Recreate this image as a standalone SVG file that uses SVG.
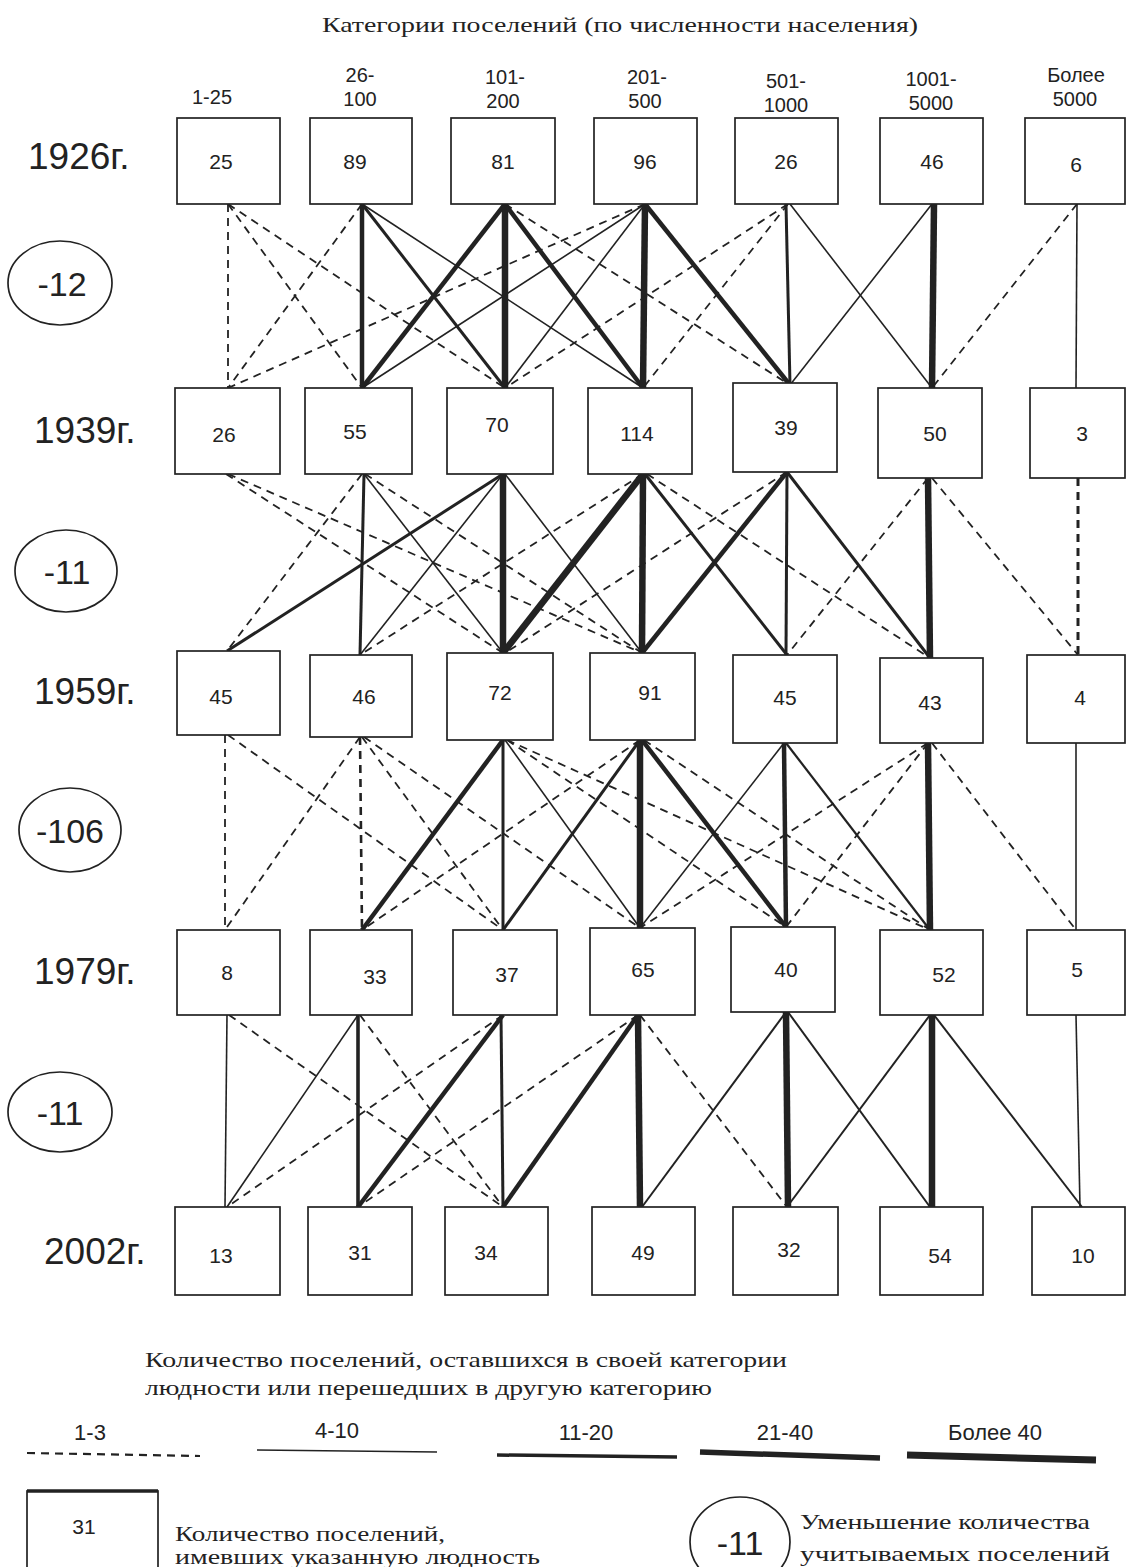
<svg xmlns="http://www.w3.org/2000/svg" width="1126" height="1567" viewBox="0 0 1126 1567">
<style>
.bg{fill:#fff}
.box{fill:#fff;stroke:#222;stroke-width:1.7}
.n{font-family:"Liberation Sans",Arial,sans-serif;font-size:21px;fill:#222;text-anchor:middle}
.h{font-family:"Liberation Sans",Arial,sans-serif;font-size:20px;fill:#222;text-anchor:middle}
.yr{font-family:"Liberation Sans",Arial,sans-serif;font-size:37px;fill:#222}
.ov{fill:#fff;stroke:#222;stroke-width:1.7}
.ot{font-family:"Liberation Sans",Arial,sans-serif;font-size:34px;fill:#222;text-anchor:middle}
.sf{font-family:"Liberation Serif","Times New Roman",serif;font-size:22px;fill:#222}
.c line{stroke:#222;fill:none;stroke-linecap:butt}
.d{stroke-width:1.8;stroke-dasharray:8 6}
.t{stroke-width:1.6}
.m{stroke-width:3}
.k{stroke-width:4.5}
.x{stroke-width:6.5}
</style>
<rect class="bg" x="0" y="0" width="1126" height="1567"/>
<text class="sf" x="322" y="32" textLength="596" lengthAdjust="spacingAndGlyphs">Категории поселений (по численности населения)</text>

<g id="headers">
<text class="h" x="212" y="104">1-25</text>
<text class="h" x="360" y="82">26-</text><text class="h" x="360" y="106">100</text>
<text class="h" x="505" y="84">101-</text><text class="h" x="503" y="108">200</text>
<text class="h" x="647" y="84">201-</text><text class="h" x="645" y="108">500</text>
<text class="h" x="786" y="88">501-</text><text class="h" x="786" y="112">1000</text>
<text class="h" x="931" y="86">1001-</text><text class="h" x="931" y="110">5000</text>
<text class="h" x="1076" y="82">Более</text><text class="h" x="1075" y="106">5000</text>
</g>

<g id="years">
<text class="yr" x="28" y="169">1926г.</text>
<text class="yr" x="34" y="443">1939г.</text>
<text class="yr" x="34" y="704">1959г.</text>
<text class="yr" x="34" y="984">1979г.</text>
<text class="yr" x="44" y="1264">2002г.</text>
</g>

<g id="decreases">
<g id="dec1"><ellipse class="ov" cx="60" cy="283" rx="52" ry="42"/><text class="ot" x="62" y="296">-12</text></g>
<g id="dec2"><ellipse class="ov" cx="66" cy="571" rx="51" ry="41"/><text class="ot" x="67" y="584">-11</text></g>
<g id="dec3"><ellipse class="ov" cx="70" cy="830" rx="51" ry="42"/><text class="ot" x="70" y="843">-106</text></g>
<g id="dec4"><ellipse class="ov" cx="60" cy="1112" rx="52" ry="40"/><text class="ot" x="60" y="1125">-11</text></g>
</g>

<g id="connectors" class="c">
<!-- 1926 -> 1939 -->
<line class="d" x1="228" y1="204" x2="228" y2="388"/>
<line class="d" x1="228" y1="204" x2="362" y2="388"/>
<line class="d" x1="228" y1="204" x2="505" y2="388"/>
<line class="d" x1="362" y1="204" x2="228" y2="388"/>
<line class="k" x1="362" y1="204" x2="362" y2="388"/>
<line class="m" x1="362" y1="204" x2="505" y2="388"/>
<line class="t" x1="362" y1="204" x2="643" y2="388"/>
<line class="k" x1="505" y1="204" x2="362" y2="388"/>
<line class="x" x1="505" y1="204" x2="505" y2="388"/>
<line class="k" x1="505" y1="204" x2="643" y2="388"/>
<line class="d" x1="505" y1="204" x2="790" y2="385"/>
<line class="d" x1="645" y1="204" x2="228" y2="388"/>
<line class="t" x1="645" y1="204" x2="362" y2="388"/>
<line class="t" x1="645" y1="204" x2="505" y2="388"/>
<line class="x" x1="645" y1="204" x2="643" y2="388"/>
<line class="k" x1="645" y1="204" x2="790" y2="385"/>
<line class="d" x1="788" y1="204" x2="505" y2="388"/>
<line class="d" x1="788" y1="204" x2="643" y2="388"/>
<line class="m" x1="786" y1="204" x2="790" y2="385"/>
<line class="t" x1="790" y1="204" x2="932" y2="388"/>
<line class="t" x1="932" y1="204" x2="790" y2="385"/>
<line class="x" x1="934" y1="204" x2="932" y2="388"/>
<line class="d" x1="1077" y1="204" x2="932" y2="388"/>
<line class="t" x1="1077" y1="204" x2="1076" y2="388"/>
<!-- 1939 -> 1959 -->
<line class="d" x1="226" y1="474" x2="503" y2="653"/>
<line class="d" x1="228" y1="474" x2="642" y2="653"/>
<line class="d" x1="362" y1="474" x2="227" y2="651"/>
<line class="m" x1="364" y1="474" x2="360" y2="655"/>
<line class="t" x1="364" y1="474" x2="503" y2="653"/>
<line class="d" x1="365" y1="474" x2="642" y2="653"/>
<line class="m" x1="503" y1="474" x2="227" y2="651"/>
<line class="t" x1="503" y1="474" x2="360" y2="655"/>
<line class="x" x1="503" y1="474" x2="503" y2="653"/>
<line class="t" x1="505" y1="474" x2="642" y2="653"/>
<line class="d" x1="643" y1="474" x2="360" y2="655"/>
<line class="x" x1="643" y1="474" x2="503" y2="653"/>
<line class="x" x1="643" y1="474" x2="642" y2="653"/>
<line class="m" x1="645" y1="474" x2="787" y2="655"/>
<line class="d" x1="647" y1="474" x2="930" y2="658"/>
<line class="d" x1="787" y1="472" x2="505" y2="653"/>
<line class="k" x1="787" y1="472" x2="642" y2="653"/>
<line class="m" x1="787" y1="472" x2="786" y2="655"/>
<line class="m" x1="787" y1="472" x2="930" y2="658"/>
<line class="d" x1="928" y1="478" x2="787" y2="655"/>
<line class="x" x1="928" y1="478" x2="930" y2="658"/>
<line class="d" x1="932" y1="478" x2="1078" y2="655"/>
<line class="d" x1="1078" y1="478" x2="1078" y2="655" style="stroke-width:3"/>
<!-- 1959 -> 1979 -->
<line class="d" x1="225" y1="735" x2="225" y2="930"/>
<line class="d" x1="228" y1="735" x2="503" y2="930"/>
<line class="d" x1="360" y1="737" x2="225" y2="930"/>
<line class="d" x1="360" y1="737" x2="362" y2="930" style="stroke-width:2.6"/>
<line class="d" x1="362" y1="737" x2="503" y2="930"/>
<line class="d" x1="364" y1="737" x2="640" y2="928"/>
<line class="k" x1="503" y1="740" x2="362" y2="930"/>
<line class="m" x1="503" y1="740" x2="503" y2="930"/>
<line class="t" x1="505" y1="740" x2="640" y2="928"/>
<line class="d" x1="507" y1="740" x2="786" y2="927"/>
<line class="d" x1="507" y1="740" x2="930" y2="930"/>
<line class="d" x1="640" y1="740" x2="362" y2="930"/>
<line class="m" x1="640" y1="740" x2="503" y2="930"/>
<line class="x" x1="640" y1="740" x2="640" y2="928"/>
<line class="k" x1="642" y1="740" x2="786" y2="927"/>
<line class="d" x1="644" y1="740" x2="930" y2="930"/>
<line class="t" x1="784" y1="743" x2="640" y2="928"/>
<line class="k" x1="784" y1="743" x2="786" y2="927"/>
<line class="m" x1="786" y1="743" x2="930" y2="930" style="stroke-width:2.2"/>
<line class="d" x1="928" y1="743" x2="640" y2="928"/>
<line class="d" x1="928" y1="743" x2="786" y2="927"/>
<line class="x" x1="928" y1="743" x2="930" y2="930"/>
<line class="d" x1="932" y1="743" x2="1076" y2="930"/>
<line class="t" x1="1076" y1="743" x2="1076" y2="930"/>
<!-- 1979 -> 2002 -->
<line class="t" x1="227" y1="1015" x2="225" y2="1207"/>
<line class="d" x1="229" y1="1015" x2="503" y2="1207"/>
<line class="t" x1="358" y1="1015" x2="227" y2="1207"/>
<line class="m" x1="358" y1="1015" x2="358" y2="1207" style="stroke-width:3.6"/>
<line class="d" x1="360" y1="1015" x2="503" y2="1207"/>
<line class="d" x1="503" y1="1015" x2="227" y2="1207"/>
<line class="k" x1="503" y1="1015" x2="358" y2="1207"/>
<line class="m" x1="501" y1="1015" x2="503" y2="1207"/>
<line class="d" x1="638" y1="1015" x2="358" y2="1207"/>
<line class="k" x1="638" y1="1015" x2="503" y2="1207"/>
<line class="x" x1="638" y1="1015" x2="640" y2="1207"/>
<line class="d" x1="640" y1="1015" x2="787" y2="1207"/>
<line class="t" x1="786" y1="1012" x2="642" y2="1207" style="stroke-width:2"/>
<line class="x" x1="786" y1="1012" x2="788" y2="1207"/>
<line class="t" x1="788" y1="1012" x2="930" y2="1207" style="stroke-width:2"/>
<line class="t" x1="930" y1="1015" x2="787" y2="1207" style="stroke-width:2"/>
<line class="x" x1="932" y1="1015" x2="932" y2="1207"/>
<line class="t" x1="934" y1="1015" x2="1082" y2="1207" style="stroke-width:2"/>
<line class="t" x1="1076" y1="1015" x2="1080" y2="1207"/>
</g>

<g id="r1926">
<g id="n1926-1"><rect class="box" x="177" y="118" width="103" height="86"/><text class="n" x="221" y="169">25</text></g>
<g id="n1926-2"><rect class="box" x="310" y="118" width="102" height="86"/><text class="n" x="355" y="169">89</text></g>
<g id="n1926-3"><rect class="box" x="451" y="118" width="104" height="86"/><text class="n" x="503" y="169">81</text></g>
<g id="n1926-4"><rect class="box" x="594" y="118" width="103" height="86"/><text class="n" x="645" y="169">96</text></g>
<g id="n1926-5"><rect class="box" x="735" y="118" width="103" height="86"/><text class="n" x="786" y="169">26</text></g>
<g id="n1926-6"><rect class="box" x="880" y="118" width="103" height="86"/><text class="n" x="932" y="169">46</text></g>
<g id="n1926-7"><rect class="box" x="1025" y="118" width="100" height="86"/><text class="n" x="1076" y="172">6</text></g>
</g>
<g id="r1939">
<g id="n1939-1"><rect class="box" x="175" y="388" width="105" height="86"/><text class="n" x="224" y="442">26</text></g>
<g id="n1939-2"><rect class="box" x="305" y="388" width="107" height="86"/><text class="n" x="355" y="439">55</text></g>
<g id="n1939-3"><rect class="box" x="447" y="388" width="106" height="86"/><text class="n" x="497" y="432">70</text></g>
<g id="n1939-4"><rect class="box" x="588" y="388" width="104" height="86"/><text class="n" x="637" y="441">114</text></g>
<g id="n1939-5"><rect class="box" x="733" y="383" width="104" height="89"/><text class="n" x="786" y="435">39</text></g>
<g id="n1939-6"><rect class="box" x="878" y="388" width="104" height="90"/><text class="n" x="935" y="441">50</text></g>
<g id="n1939-7"><rect class="box" x="1030" y="388" width="95" height="90"/><text class="n" x="1082" y="441">3</text></g>
</g>
<g id="r1959">
<g id="n1959-1"><rect class="box" x="177" y="651" width="103" height="84"/><text class="n" x="221" y="704">45</text></g>
<g id="n1959-2"><rect class="box" x="310" y="655" width="102" height="82"/><text class="n" x="364" y="704">46</text></g>
<g id="n1959-3"><rect class="box" x="447" y="653" width="106" height="87"/><text class="n" x="500" y="700">72</text></g>
<g id="n1959-4"><rect class="box" x="590" y="653" width="105" height="87"/><text class="n" x="650" y="700">91</text></g>
<g id="n1959-5"><rect class="box" x="733" y="655" width="104" height="88"/><text class="n" x="785" y="705">45</text></g>
<g id="n1959-6"><rect class="box" x="880" y="658" width="103" height="85"/><text class="n" x="930" y="710">43</text></g>
<g id="n1959-7"><rect class="box" x="1027" y="655" width="98" height="88"/><text class="n" x="1080" y="705">4</text></g>
</g>
<g id="r1979">
<g id="n1979-1"><rect class="box" x="177" y="930" width="103" height="85"/><text class="n" x="227" y="980">8</text></g>
<g id="n1979-2"><rect class="box" x="310" y="930" width="102" height="85"/><text class="n" x="375" y="984">33</text></g>
<g id="n1979-3"><rect class="box" x="453" y="930" width="104" height="85"/><text class="n" x="507" y="982">37</text></g>
<g id="n1979-4"><rect class="box" x="590" y="928" width="105" height="87"/><text class="n" x="643" y="977">65</text></g>
<g id="n1979-5"><rect class="box" x="731" y="927" width="104" height="85"/><text class="n" x="786" y="977">40</text></g>
<g id="n1979-6"><rect class="box" x="880" y="930" width="103" height="85"/><text class="n" x="944" y="982">52</text></g>
<g id="n1979-7"><rect class="box" x="1027" y="930" width="98" height="85"/><text class="n" x="1077" y="977">5</text></g>
</g>
<g id="r2002">
<g id="n2002-1"><rect class="box" x="175" y="1207" width="105" height="88"/><text class="n" x="221" y="1263">13</text></g>
<g id="n2002-2"><rect class="box" x="308" y="1207" width="104" height="88"/><text class="n" x="360" y="1260">31</text></g>
<g id="n2002-3"><rect class="box" x="445" y="1207" width="103" height="88"/><text class="n" x="486" y="1260">34</text></g>
<g id="n2002-4"><rect class="box" x="592" y="1207" width="103" height="88"/><text class="n" x="643" y="1260">49</text></g>
<g id="n2002-5"><rect class="box" x="733" y="1207" width="105" height="88"/><text class="n" x="789" y="1257">32</text></g>
<g id="n2002-6"><rect class="box" x="880" y="1207" width="103" height="88"/><text class="n" x="940" y="1263">54</text></g>
<g id="n2002-7"><rect class="box" x="1032" y="1207" width="93" height="88"/><text class="n" x="1083" y="1263">10</text></g>
</g>

<g id="legend">
<text class="sf" x="145" y="1367" textLength="642" lengthAdjust="spacingAndGlyphs">Количество поселений, оставшихся в своей категории</text>
<text class="sf" x="145" y="1395" textLength="567" lengthAdjust="spacingAndGlyphs">людности или перешедших в другую категорию</text>
<text class="n" x="90" y="1440" style="font-size:22px">1-3</text>
<text class="n" x="337" y="1438" style="font-size:22px">4-10</text>
<text class="n" x="586" y="1440" style="font-size:22px">11-20</text>
<text class="n" x="785" y="1440" style="font-size:22px">21-40</text>
<text class="n" x="995" y="1440" style="font-size:22px">Более 40</text>
<g class="c">
<line class="d" x1="27" y1="1453" x2="200" y2="1456" style="stroke-width:2.2"/>
<line class="t" x1="257" y1="1450" x2="437" y2="1452"/>
<line class="m" x1="497" y1="1455" x2="677" y2="1457" style="stroke-width:3.5"/>
<line class="k" x1="700" y1="1452" x2="880" y2="1458" style="stroke-width:5.5"/>
<line class="x" x1="907" y1="1455" x2="1096" y2="1460" style="stroke-width:7"/>
</g>
<g id="legend-box"><rect class="box" x="27" y="1491" width="131" height="77" style="stroke-width:1.7"/><line x1="27" y1="1491" x2="158" y2="1491" stroke="#222" stroke-width="3.5"/><text class="n" x="84" y="1534">31</text></g>
<text class="sf" x="175" y="1541" textLength="270" lengthAdjust="spacingAndGlyphs" style="font-size:21px">Количество поселений,</text>
<text class="sf" x="175" y="1564" textLength="365" lengthAdjust="spacingAndGlyphs" style="font-size:21px">имевших указанную людность</text>
<g id="legend-oval"><ellipse class="ov" cx="740" cy="1542" rx="50" ry="45"/><text class="ot" x="740" y="1555">-11</text></g>
<text class="sf" x="800" y="1529" textLength="290" lengthAdjust="spacingAndGlyphs" style="font-size:21px">Уменьшение количества</text>
<text class="sf" x="800" y="1561" textLength="310" lengthAdjust="spacingAndGlyphs" style="font-size:21px">учитываемых поселений</text>
</g>
</svg>
